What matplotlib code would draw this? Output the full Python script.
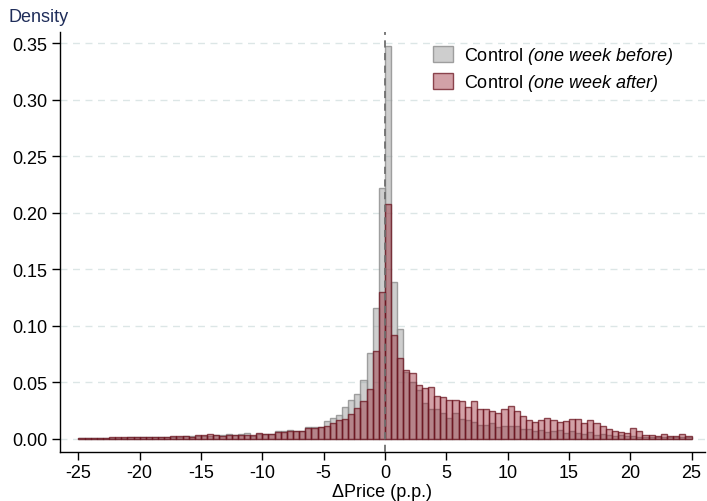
import matplotlib
matplotlib.use("Agg")
import matplotlib.pyplot as plt
import numpy as np

# bin left edges, 0.5 p.p. wide, from -25 to 25
bin_width = 0.5
bin_left = np.arange(-25, 25, bin_width)

before = [
    # -25 .. -13
    0.0008, 0.0007, 0.0010, 0.0008, 0.0010, 0.0012, 0.0011, 0.0013, 0.0014, 0.0015,
    0.0016, 0.0015, 0.0018, 0.0020, 0.0019, 0.0021, 0.0022, 0.0024, 0.0025, 0.0027,
    0.0028, 0.0030, 0.0032, 0.0036, 0.0040,
    # -12.5 .. -0.5
    0.0035, 0.0045, 0.0053, 0.0030, 0.0045, 0.0044, 0.0044, 0.0070, 0.0070, 0.0077,
    0.0074, 0.0075, 0.0103, 0.0103, 0.0105, 0.0160, 0.0186, 0.0210, 0.0280, 0.0345,
    0.0400, 0.0520, 0.0760, 0.1160, 0.2220,
    # 0 .. 24.5
    0.3480, 0.1390, 0.0970, 0.0590, 0.0500, 0.0430, 0.0320, 0.0265, 0.0265, 0.0227,
    0.0190, 0.0230, 0.0180, 0.0168, 0.0147, 0.0127, 0.0127, 0.0139, 0.0103, 0.0112,
    0.0112, 0.0112, 0.0088, 0.0088, 0.0074, 0.0077, 0.0065, 0.0074, 0.0082, 0.0050,
    0.0074, 0.0050, 0.0044, 0.0065, 0.0035, 0.0044, 0.0035, 0.0024, 0.0035, 0.0024,
    0.0024, 0.0015, 0.0015, 0.0015, 0.0015, 0.0015, 0.0015, 0.0015, 0.0015, 0.0015,
]

after = [
    # -25 .. -13
    0.0010, 0.0008, 0.0012, 0.0009, 0.0011, 0.0018, 0.0019, 0.0017, 0.0016, 0.0016,
    0.0017, 0.0020, 0.0022, 0.0020, 0.0021, 0.0023, 0.0025, 0.0023, 0.0022, 0.0033,
    0.0034, 0.0040, 0.0034, 0.0030, 0.0031,
    # -12.5 .. -0.5
    0.0035, 0.0038, 0.0035, 0.0032, 0.0052, 0.0042, 0.0044, 0.0060, 0.0060, 0.0072,
    0.0070, 0.0072, 0.0100, 0.0098, 0.0103, 0.0118, 0.0139, 0.0170, 0.0177, 0.0220,
    0.0270, 0.0340, 0.0440, 0.0780, 0.1300,
    # 0 .. 24.5
    0.2080, 0.0920, 0.0720, 0.0610, 0.0580, 0.0477, 0.0448, 0.0460, 0.0377, 0.0368,
    0.0348, 0.0348, 0.0336, 0.0286, 0.0333, 0.0265, 0.0265, 0.0250, 0.0230, 0.0265,
    0.0295, 0.0250, 0.0206, 0.0170, 0.0147, 0.0165, 0.0190, 0.0168, 0.0147, 0.0162,
    0.0177, 0.0177, 0.0141, 0.0170, 0.0141, 0.0118, 0.0088, 0.0074, 0.0060, 0.0055,
    0.0094, 0.0074, 0.0038, 0.0038, 0.0024, 0.0041, 0.0030, 0.0030, 0.0040, 0.0030,
]

# the math part is drawn fully in italic (rm and it both set to italic below)
labels = ["Control $(one\\ week\\ before)$", "Control $(one\\ week\\ after)$"]
xticks = np.arange(-25, 26, 5)
yticks = np.arange(0, 0.351, 0.05)

plt.rcParams.update({
    "font.family": ["Liberation Sans", "DejaVu Sans"],
    "mathtext.fontset": "custom",
    "mathtext.it": "Liberation Sans:italic",
    "mathtext.rm": "Liberation Sans:italic",
    "axes.unicode_minus": False,
    "font.size": 13,
})

fig = plt.figure(figsize=(7.07, 5.02), dpi=100)
ax = fig.add_axes([60 / 707, 49 / 502, 645 / 707, 420 / 502])

gray_face = (0.58, 0.58, 0.58, 0.45)
gray_edge = (0.55, 0.55, 0.55, 0.8)
red_face = (0.58, 0.12, 0.18, 0.42)
red_edge = (0.42, 0.08, 0.12, 0.75)

ax.bar(bin_left, before, width=bin_width, align="edge", color=gray_face,
       edgecolor=gray_edge, linewidth=1.0, label=labels[0], zorder=2)
ax.bar(bin_left, after, width=bin_width, align="edge", color=red_face,
       edgecolor=red_edge, linewidth=1.0, label=labels[1], zorder=3)

ax.axvline(0, color="#707070", linestyle=(0, (4, 3)), linewidth=1.3, zorder=4)

ax.set_xlim(-26.5, 26.1)
ax.set_ylim(-0.0115, 0.36)
ax.set_xticks(xticks)
ax.set_xticklabels([str(v) for v in xticks])
ax.set_yticks(yticks)
ax.set_yticklabels([f"{v:.2f}" for v in yticks])
ax.tick_params(axis="both", length=6, width=1, colors="black", labelsize=13)
ax.tick_params(axis="x", pad=3)
ax.tick_params(axis="y", pad=3)

ax.grid(axis="y", color="#dce6e6", linestyle=(0, (5, 4)), linewidth=1.0)
ax.set_axisbelow(True)
for s in ["top", "right"]:
    ax.spines[s].set_visible(False)
for s in ["left", "bottom"]:
    ax.spines[s].set_linewidth(1.0)

ax.set_xlabel("ΔPrice (p.p.)", fontsize=13, labelpad=1)
fig.text(8 / 707, 1 - 18 / 502, "Density", fontsize=13, color="#1f2d5a",
         ha="left", va="center")

ax.legend(loc="upper left", bbox_to_anchor=(0.578, 0.968), frameon=False,
          fontsize=13, borderpad=0, borderaxespad=0, handlelength=1.1,
          handleheight=1.0, handletextpad=0.65, labelspacing=0.33)

fig.savefig("out.png", dpi=100)
